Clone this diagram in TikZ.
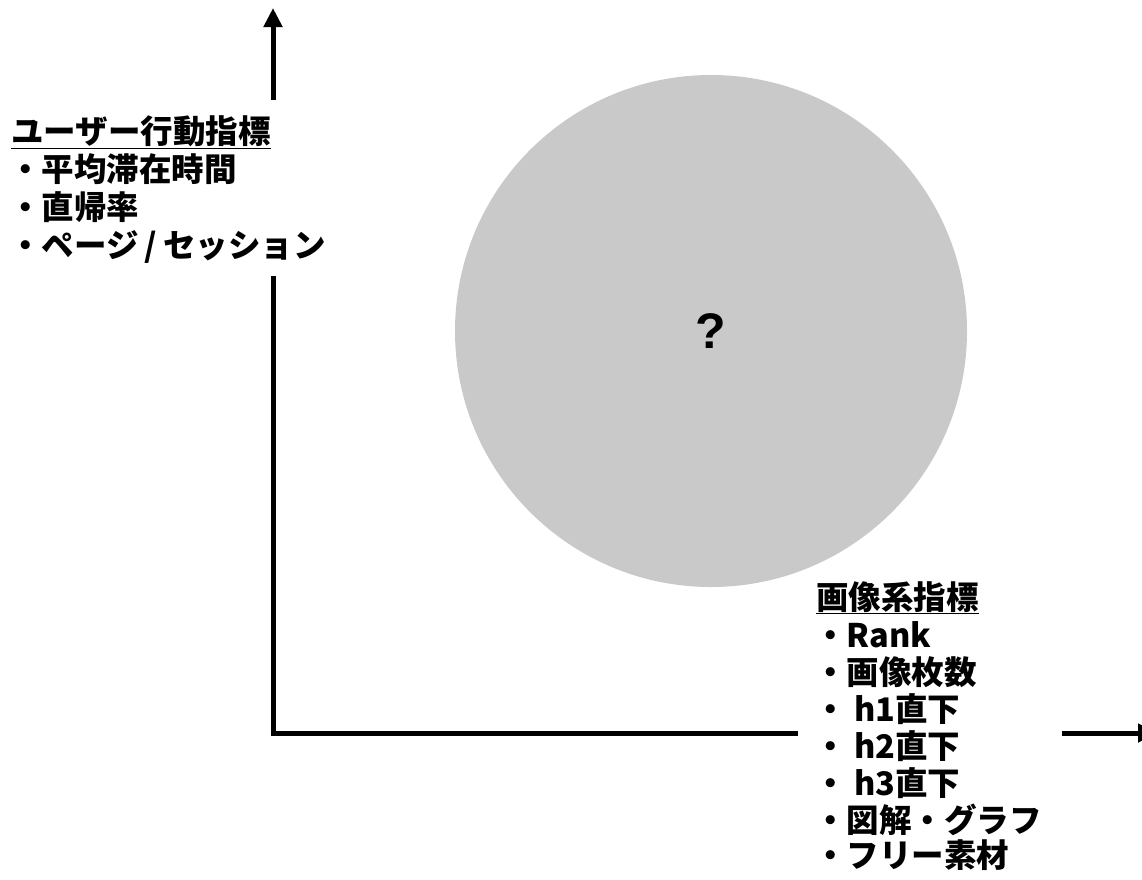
\documentclass[tikz,border=0pt]{standalone}
\usepackage{fontspec}
\newfontfamily\jp{Noto Sans CJK JP}
\newfontfamily\arialish{Liberation Sans}
\usetikzlibrary{arrows.meta}
\definecolor{circgray}{HTML}{C9C9C9}
\tikzset{
  axis/.style={line width=5pt, line cap=butt},
  axisarrow/.style={axis, -{Triangle[width=18pt,length=19pt]}},
  lbl/.style={anchor=base west, inner sep=0pt, font=\jp\bfseries\fontsize{32.5}{38}\selectfont},
  qmark/.style={inner sep=0pt, font=\arialish\bfseries\fontsize{50}{56}\selectfont}
}
\begin{document}
\begin{tikzpicture}[x=1pt,y=-1pt]
\useasboundingbox (0,0) rectangle (1142,879);
% circle
\fill[circgray] (711,331) circle (256);
\node[qmark] (q) at (711,331) {?};
% axes
\coordinate (origin) at (273,733);
\coordinate (ytop) at (273,8);
\coordinate (ygapT) at (273,100);
\coordinate (ygapB) at (273,276);
\coordinate (xgapL) at (798,733);
\coordinate (xgapR) at (1062,733);
\coordinate (xend) at (1157,733);
\draw[axisarrow] (ygapT) -- (ytop);
\draw[axis] (ygapB) |- (xgapL);
\draw[axisarrow] (xgapR) -- (xend);
% left labels
\node[lbl] (l0) at (11,143) {\underline{ユーザー行動指標}};
\node[lbl] (l1) at (9,181) {・平均滞在時間};
\node[lbl] (l2) at (9,219) {・直帰率};
\node[lbl] (l3) at (9,257) {・ページ\hspace{6pt}/\hspace{6pt}セッション};
% right labels
\node[lbl] (r0) at (816,609) {\underline{画像系指標}};
\node[lbl] (r1) at (814,647) {・Rank};
\node[lbl] (r2) at (814,684) {・画像枚数};
\node[lbl] (r3) at (814,721) {・ h1直下};
\node[lbl] (r4) at (814,758) {・ h2直下};
\node[lbl] (r5) at (814,795) {・ h3直下};
\node[lbl] (r6) at (814,832) {・図解・グラフ};
\node[lbl] (r7) at (814,867) {・フリー素材};
\end{tikzpicture}
\end{document}
